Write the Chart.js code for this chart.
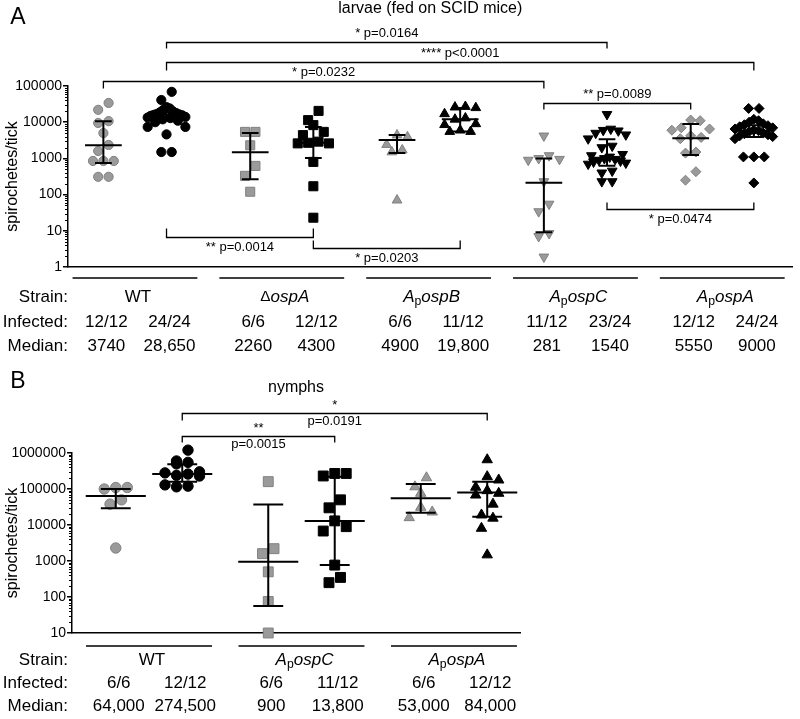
<!DOCTYPE html>
<html>
<head>
<meta charset="utf-8">
<script src="https://cdn.jsdelivr.net/npm/chart.js@4.4.1/dist/chart.umd.min.js"></script>
<style>
  html, body { margin: 0; padding: 0; background: #fff; }
  #wrap { position: relative; width: 800px; height: 719px; }
  canvas { position: absolute; left: 0; }
  #cA { top: 0; }
  #cB { top: 370px; }
</style>
</head>
<body>
<div id="wrap">
  <canvas id="cA" width="800" height="370"></canvas>
  <canvas id="cB" width="800" height="349"></canvas>
</div>
<script>
// ---------- panel A: larvae fed on SCID mice ----------
const strainsA = ['WT', 'ΔospA', 'ApospB', 'ApospC', 'ApospA'];
const infectedA = ['12/12', '24/24', '6/6', '12/12', '6/6', '11/12', '11/12', '23/24', '12/12', '24/24'];
const mediansA = ['3740', '28,650', '2260', '4300', '4900', '19,800', '281', '1540', '5550', '9000'];
const ticksA = [1, 10, 100, 1000, 10000, 100000];

const wtA1 = [34000, 22000, 10700, 9500, 5000, 2350, 1600, 850, 850, 850, 310, 310];
const wtA2 = [69000, 41000, 26000, 24000, 22000, 20000, 19000, 18000, 17000, 16500, 16000, 15500,
              15000, 14000, 13500, 13000, 12000, 11000, 10000, 7400, 7400, 4600, 1500, 1500];
const dOspA1 = [5400, 5400, 2300, 620, 330, 120];
const dOspA2 = [20500, 11400, 8300, 5400, 4400, 2900, 2700, 2600, 2600, 800, 170, 23];
const apB1 = [4400, 3900, 2400, 1700, 1500, 70];
const apB2 = [27000, 26000, 25000, 17000, 13000, 12000, 9000, 8500, 6000, 5500, 5500];
const apC1 = [4200, 1200, 1000, 950, 900, 230, 55, 34, 8.5, 7, 1.9];
const apC2 = [16500, 6500, 6000, 5800, 5000, 4500, 3500, 2200, 2000, 1300, 1200, 1100,
              1000, 950, 900, 850, 800, 750, 700, 450, 400, 230, 230];
const apA1 = [11500, 11000, 7000, 6500, 6000, 4200, 3800, 3500, 1500, 1400, 430, 250];
const apA2 = [24000, 24000, 12000, 11000, 10000, 9000, 8500, 8000, 7500, 7000, 6500, 6000,
              5800, 5500, 5000, 4800, 4500, 4200, 4000, 3500, 1100, 1100, 1100, 210];

// central line and whiskers as drawn
const midA = [2300, 16200, 1480, 2700, 3200, 12000, 213, 1000, 3600, 5800];
const lowA = [750, 11500, 265, 1030, 1400, 5500, 9.1, 630, 1240, 3900];
const highA = [10700, 22000, 5000, 7400, 4400, 24500, 1000, 3400, 8900, 8300];

// [from column, to column, level, leg px, text above, text below]
const bracketsA = [
  [1, 7, 1.64e6, 6, '* p=0.0164', null],
  [1, 9, 4.6e5, 8, '**** p<0.0001', null],
  [0, 6, 1.37e5, 7, '* p=0.0232', null],
  [6, 8, 3.4e4, 6, '** p=0.0089', null],
  [1, 3, 6.7, -9, null, '** p=0.0014'],
  [3, 5, 3.35, -8, null, '* p=0.0203'],
  [7, 9, 40, -7, null, '* p=0.0474']
];

// ---------- panel B: nymphs ----------
const strainsB = ['WT', 'ApospC', 'ApospA'];
const infectedB = ['6/6', '12/12', '6/6', '11/12', '6/6', '12/12'];
const mediansB = ['64,000', '274,500', '900', '13,800', '53,000', '84,000'];
const ticksB = [10, 100, 1000, 10000, 100000, 1000000];

const wtB1 = [110000, 110000, 100000, 50000, 38000, 2300];
const wtB2 = [1200000, 600000, 550000, 500000, 300000, 280000, 260000, 240000, 230000, 130000, 120000, 115000];
const apCB1 = [160000, 2200, 1600, 500, 75, 10];
const apCB2 = [270000, 270000, 230000, 50000, 30000, 13000, 9000, 6800, 770, 350, 250];
const apAB1 = [205000, 115000, 76000, 31000, 23000, 16000];
const apAB2 = [650000, 220000, 178000, 112000, 90000, 76000, 68000, 38000, 19000, 15500, 8100, 1480];

const midB = [64000, 260000, 950, 13000, 55000, 80000];
const lowB = [29000, 160000, 56, 780, 22000, 17000];
const highB = [100000, 490000, 37000, 220000, 138000, 160000];

const bracketsB = [
  [1, 5, 1.26e7, 7, '*', 'p=0.0191'],
  [1, 3, 2.96e6, 6, '**', 'p=0.0015']
];

// ---------- drawing ----------
const FONT = "'Liberation Sans', Arial, Helvetica, sans-serif";
const GRAY = '#9a9a9a';
const GRAY_EDGE = '#808080';
Chart.defaults.font.family = FONT;
Chart.defaults.color = '#000';

function colX(i, half) {
  return Math.floor(i / 2) + (i % 2 ? half : -half);
}

// rows of points within one marker height are spread sideways, centre out
function swarm(values, unitPx, decadePx, gap, maxHalf) {
  const rowH = gap / decadePx;
  const idx = values.map((v, i) => i).sort((a, b) => values[b] - values[a]);
  const off = new Array(values.length).fill(0);
  let k = 0;
  while (k < idx.length) {
    const top = Math.log10(values[idx[k]]);
    const row = [];
    while (k < idx.length && top - Math.log10(values[idx[k]]) < rowH) row.push(idx[k++]);
    const n = row.length;
    const step = n > 1 ? Math.min(gap, 2 * maxHalf / (n - 1)) : 0;
    const slots = row.map((_, m) => m - (n - 1) / 2)
      .sort((a, b) => Math.abs(a) - Math.abs(b) || b - a);
    row.forEach((j, m) => { off[j] = slots[m] * step / unitPx; });
  }
  return off;
}

function makeDatasets(p) {
  return p.columns.map((vals, i) => {
    const off = swarm(vals, p.unitPx, p.decadePx, p.gap, p.maxHalf);
    const shape = p.shapes[Math.floor(i / 2)];
    const gray = i % 2 === 0;
    return {
      data: vals.map((v, j) => ({ x: colX(i, p.half) + off[j], y: v })),
      pointStyle: shape[0],
      pointRotation: shape[2] || 0,
      pointRadius: shape[1],
      pointBackgroundColor: gray ? GRAY : '#000',
      pointBorderColor: gray ? GRAY_EDGE : '#000',
      pointBorderWidth: 1,
      showLine: false,
      clip: false
    };
  });
}

function drawStrain(ctx, name, cx, y, size) {
  let parts;
  if (name.startsWith('Ap')) {
    parts = [['A', 'italic', size, 0], ['p', '', size * 0.72, size * 0.3], [name.slice(2), 'italic', size, 0]];
  } else if (name.startsWith('Δ')) {
    parts = [['Δ', '', size * 0.9, 0], [name.slice(1), 'italic', size, 0]];
  } else {
    parts = [[name, '', size, 0]];
  }
  let w = 0;
  parts.forEach(pt => {
    ctx.font = `${pt[1]} ${pt[2]}px ${FONT}`;
    pt.push(ctx.measureText(pt[0]).width);
    w += pt[4];
  });
  let x = cx - w / 2;
  ctx.textAlign = 'left';
  parts.forEach(pt => {
    ctx.font = `${pt[1]} ${pt[2]}px ${FONT}`;
    ctx.fillText(pt[0], x, y + pt[3]);
    x += pt[4];
  });
}

function decor(p) {
  return {
    id: 'decor',
    afterDraw(chart) {
      const ctx = chart.ctx, a = chart.chartArea;
      const xs = chart.scales.x, ys = chart.scales.y;
      const unit = xs.getPixelForValue(1) - xs.getPixelForValue(0);
      const px = i => xs.getPixelForValue(colX(i, p.half));
      ctx.save();
      ctx.strokeStyle = '#000';
      ctx.fillStyle = '#000';

      // minor ticks on the log axis
      ctx.lineWidth = 1;
      const e0 = Math.log10(p.ticks[0]), e1 = Math.log10(p.ticks[p.ticks.length - 1]);
      for (let e = e0; e < e1; e++) {
        for (let k = 2; k < 10; k++) {
          const y = Math.round(ys.getPixelForValue(k * Math.pow(10, e))) + 0.5;
          ctx.beginPath(); ctx.moveTo(a.left - 3, y); ctx.lineTo(a.left, y); ctx.stroke();
        }
      }

      // central line with whiskers
      ctx.lineWidth = p.lw;
      p.mid.forEach((m, i) => {
        const x = px(i);
        const ym = ys.getPixelForValue(m), yl = ys.getPixelForValue(p.low[i]), yh = ys.getPixelForValue(p.high[i]);
        const wm = p.midHalf * unit, wc = p.capHalf * unit;
        ctx.beginPath();
        ctx.moveTo(x - wm, ym); ctx.lineTo(x + wm, ym);
        ctx.moveTo(x, yl); ctx.lineTo(x, yh);
        ctx.moveTo(x - wc, yl); ctx.lineTo(x + wc, yl);
        ctx.moveTo(x - wc, yh); ctx.lineTo(x + wc, yh);
        ctx.stroke();
      });

      // significance brackets
      ctx.lineWidth = 1.3;
      ctx.textAlign = 'center';
      ctx.textBaseline = 'middle';
      ctx.font = `13px ${FONT}`;
      p.brackets.forEach(b => {
        const x1 = px(b[0]), x2 = px(b[1]);
        const y = Math.round(ys.getPixelForValue(b[2])) + 0.5;
        ctx.beginPath();
        ctx.moveTo(x1, y + b[3]); ctx.lineTo(x1, y); ctx.lineTo(x2, y); ctx.lineTo(x2, y + b[3]);
        ctx.stroke();
        const cx = (x1 + x2) / 2;
        if (b[4]) ctx.fillText(b[4], cx, y + p.textUp);
        if (b[5]) ctx.fillText(b[5], cx, y + p.textDown);
      });

      // table under the axis
      const r = p.rows;
      ctx.font = `17px ${FONT}`;
      ctx.textAlign = 'right';
      ['Strain:', 'Infected:', 'Median:'].forEach((t, k) => ctx.fillText(t, 68, r[k + 1]));
      ctx.lineWidth = 1.5;
      p.strains.forEach((s, g) => {
        const cx = xs.getPixelForValue(g);
        const lh = p.lineHalf * unit;
        ctx.beginPath(); ctx.moveTo(cx - lh, r[0]); ctx.lineTo(cx + lh, r[0]); ctx.stroke();
        drawStrain(ctx, s, cx + 3, r[1], 17);
      });
      ctx.font = `17px ${FONT}`;
      ctx.textAlign = 'center';
      p.infected.forEach((t, i) => ctx.fillText(t, px(i) + 3, r[2]));
      p.medians.forEach((t, i) => ctx.fillText(t, px(i) + 3, r[3]));

      // titles
      ctx.font = `16px ${FONT}`;
      ctx.fillText(p.title, (a.left + a.right) / 2, p.titleY);
      ctx.font = `23px ${FONT}`;
      ctx.fillText(p.letter, 18, p.letterY);
      ctx.restore();
    }
  };
}

function makeChart(id, p) {
  return new Chart(document.getElementById(id), {
    type: 'scatter',
    data: { datasets: makeDatasets(p) },
    options: {
      responsive: false,
      animation: false,
      events: [],
      layout: { padding: p.pad },
      plugins: { legend: { display: false }, tooltip: { enabled: false } },
      scales: {
        x: {
          type: 'linear', min: p.xMin, max: p.xMax,
          grid: { display: false },
          ticks: { display: false },
          border: { color: '#000', width: 1.5 },
          afterFit: s => { s.height = 0; }
        },
        y: {
          type: 'logarithmic',
          min: p.ticks[0], max: p.ticks[p.ticks.length - 1],
          afterBuildTicks: s => { s.ticks = p.ticks.map(v => ({ value: v })); },
          afterFit: s => { s.width = p.axisW; },
          grid: { drawOnChartArea: false, tickLength: 5, color: '#000', lineWidth: 1.5 },
          border: { color: '#000', width: 1.5 },
          ticks: { autoSkip: false, padding: 1, font: { size: 14 }, color: '#000', callback: v => String(v) },
          title: { display: true, text: 'spirochetes/tick', font: { size: 16 }, color: '#000', padding: { top: 3, bottom: 0 } }
        }
      }
    },
    plugins: [decor(p)]
  });
}

makeChart('cA', {
  columns: [wtA1, wtA2, dOspA1, dOspA2, apB1, apB2, apC1, apC2, apA1, apA2],
  shapes: [['circle', 4.6], ['rect', 6.4], ['triangle', 5.6], ['triangle', 5.6, 180], ['rectRot', 5]],
  strains: strainsA, infected: infectedA, medians: mediansA, ticks: ticksA,
  mid: midA, low: lowA, high: highA, brackets: bracketsA,
  half: 0.215, xMin: -0.456, xMax: 4.479,
  unitPx: 148, decadePx: 36.2, gap: 10.5, maxHalf: 19,
  midHalf: 0.125, capHalf: 0.057, lineHalf: 0.425, lw: 2,
  pad: { top: 86, bottom: 103, left: 0, right: 2 }, axisW: 68,
  textUp: -9, textDown: 10,
  rows: [278, 297, 322, 346],
  title: 'larvae (fed on SCID mice)', titleY: 9, letter: 'A', letterY: 18
});

makeChart('cB', {
  columns: [wtB1, wtB2, apCB1, apCB2, apAB1, apAB2],
  shapes: [['circle', 5.2], ['rect', 7], ['triangle', 6]],
  strains: strainsB, infected: infectedB, medians: mediansB, ticks: ticksB,
  mid: midB, low: lowB, high: highB, brackets: bracketsB,
  half: 0.218, xMin: -0.505, xMax: 2.433,
  unitPx: 152.5, decadePx: 36, gap: 11.5, maxHalf: 21,
  midHalf: 0.197, capHalf: 0.098, lineHalf: 0.413, lw: 2,
  pad: { top: 83, bottom: 86, left: 0, right: 280 }, axisW: 72,
  textUp: -8, textDown: 8,
  rows: [276, 290, 313, 336],
  title: 'nymphs', titleY: 18, letter: 'B', letterY: 12
});
</script>
</body>
</html>
